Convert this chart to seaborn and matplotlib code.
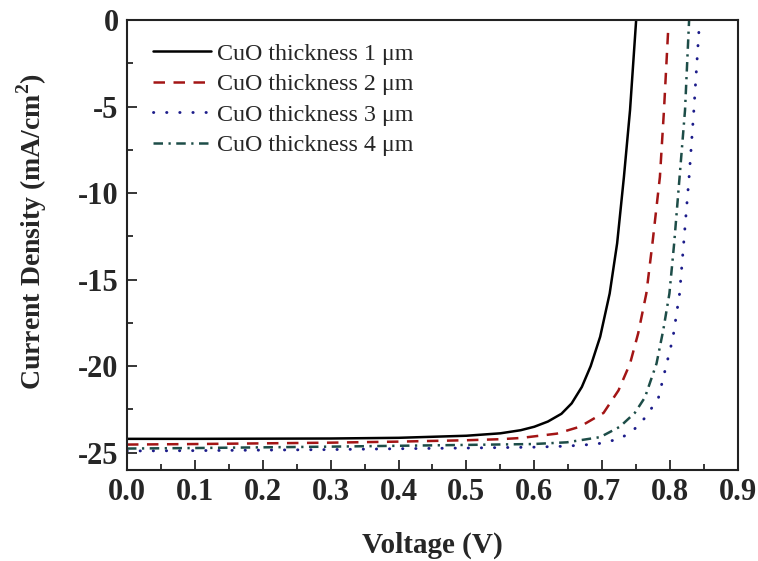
import matplotlib
matplotlib.use("Agg")
import matplotlib.pyplot as plt
import seaborn as sns
import numpy as np
import pandas as pd
from matplotlib.ticker import MultipleLocator

# ---- data ----
labels = ["CuO thickness 1 \u03bcm", "CuO thickness 2 \u03bcm",
          "CuO thickness 3 \u03bcm", "CuO thickness 4 \u03bcm"]

v1 = [0.0, 0.1, 0.2, 0.3, 0.4, 0.5, 0.55, 0.58, 0.60, 0.62, 0.64, 0.655,
      0.670, 0.683, 0.697, 0.711, 0.722, 0.732, 0.741, 0.750]
j1 = [-24.20, -24.20, -24.19, -24.18, -24.14, -24.02, -23.88, -23.70, -23.50,
      -23.20, -22.75, -22.15, -21.20, -20.00, -18.30, -15.80, -12.90, -9.06,
      -5.20, 0.0]

v2 = [0.0, 0.1, 0.2, 0.3, 0.4, 0.5, 0.55, 0.58, 0.633, 0.667, 0.702, 0.724,
      0.741, 0.753, 0.765, 0.774, 0.785, 0.791, 0.797]
j2 = [-24.53, -24.50, -24.46, -24.42, -24.36, -24.28, -24.22, -24.15, -23.90,
      -23.50, -22.70, -21.40, -19.85, -18.10, -15.80, -12.90, -9.06, -5.20, -0.70]

v3 = [0.0, 0.1, 0.2, 0.3, 0.4, 0.5, 0.6, 0.648, 0.692, 0.726, 0.746, 0.765,
      0.783, 0.795, 0.804, 0.814, 0.820, 0.828, 0.835, 0.843]
j3 = [-24.90, -24.88, -24.85, -24.82, -24.77, -24.73, -24.68, -24.62, -24.50,
      -24.20, -23.70, -22.90, -21.80, -19.85, -18.40, -15.80, -12.90, -9.06,
      -5.20, -0.30]

v4 = [0.0, 0.1, 0.2, 0.3, 0.4, 0.5, 0.598, 0.648, 0.697, 0.726, 0.748, 0.763,
      0.780, 0.790, 0.799, 0.806, 0.814, 0.822, 0.828]
j4 = [-24.76, -24.73, -24.69, -24.65, -24.60, -24.55, -24.50, -24.40, -24.10,
      -23.50, -22.70, -21.80, -19.85, -17.90, -15.80, -12.90, -9.06, -5.20, 0.0]

xticks = [0.0, 0.1, 0.2, 0.3, 0.4, 0.5, 0.6, 0.7, 0.8, 0.9]
yticks = [0, -5, -10, -15, -20, -25]

# ---- styling ----
sns.set_style("ticks")
plt.rcParams["font.family"] = ["Liberation Serif", "DejaVu Serif"]
plt.rcParams["axes.unicode_minus"] = False
plt.rcParams["mathtext.fontset"] = "custom"
plt.rcParams["mathtext.rm"] = "Liberation Serif"
plt.rcParams["mathtext.bf"] = "Liberation Serif:bold"

colors = ["#000000", "#a31515", "#1c1c8a", "#1d4d48"]
styles = ["-", (0, (4.6, 3.4)), (0, (0.1, 4.4)), (0, (3.8, 2.2, 0.9, 2.2))]
widths = [1.8, 1.8, 2.1, 1.8]
caps = ["butt", "butt", "round", "butt"]

fig = plt.figure(figsize=(7.58, 5.61), dpi=100)
ax = fig.add_axes([0.1675, 0.1622, 0.8061, 0.8021])

for v, j, lab, c, ls, lw, cap in zip([v1, v2, v3, v4], [j1, j2, j3, j4], labels,
                                      colors, styles, widths, caps):
    df = pd.DataFrame({"V": v, "J": j})
    sns.lineplot(data=df, x="V", y="J", ax=ax, color=c, linestyle=ls,
                 linewidth=lw, label=lab, estimator=None, sort=False,
                 dash_capstyle=cap)

ax.set_xlim(0, 0.9)
ax.set_ylim(-26, 0)
ax.set_xticks(xticks)
ax.set_xticklabels([f"{t:.1f}" for t in xticks])
ax.set_yticks(yticks)
ax.set_yticklabels([str(t) for t in yticks])
ax.xaxis.set_minor_locator(MultipleLocator(0.05))
ax.yaxis.set_minor_locator(MultipleLocator(2.5))
ax.tick_params(which="both", direction="in", top=False, right=False, width=1.3)
ax.tick_params(which="major", length=7, labelsize=22, pad=6)
ax.tick_params(which="minor", length=4)
for lbl in ax.get_xticklabels() + ax.get_yticklabels():
    lbl.set_fontweight("bold")
for sp in ax.spines.values():
    sp.set_linewidth(1.5)
    sp.set_visible(True)
    sp.set_color("#222222")

ax.set_xlabel("Voltage (V)", fontsize=21, fontweight="bold")
ax.xaxis.set_label_coords(0.5, -0.137)
ax.set_ylabel(r"Current Density (mA/cm$^{\mathbf{2}}$)", fontsize=20,
              fontweight="bold")
ax.yaxis.set_label_coords(-0.127, 0.53)

leg = ax.legend(loc="upper left", frameon=False, fontsize=17.3,
                handlelength=2.4, handletextpad=0.25, labelspacing=0.36,
                borderaxespad=0.55, bbox_to_anchor=(0.005, 1.0))

fig.savefig("out.png", dpi=100)
